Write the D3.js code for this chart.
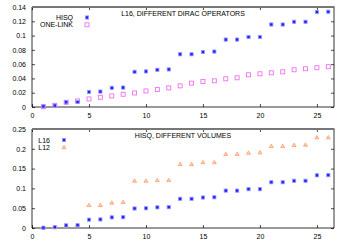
<!DOCTYPE html>
<html>
<head>
<meta charset="utf-8">
<script src="https://cdn.jsdelivr.net/npm/d3@7"></script>
<style>
  body { margin: 0; background: #fff; }
  text { font-family: "Liberation Sans", Arial, sans-serif; }
</style>
</head>
<body>
<div id="chart"></div>
<script>
// Chart size
const width = 346;
const height = 242;

// Data: config index 1..26
const configs = d3.range(1, 27);
const hisq = [0.0008, 0.002, 0.0066, 0.007, 0.0211, 0.0216, 0.0268, 0.0272, 0.0493, 0.0498,
  0.0521, 0.0526, 0.0738, 0.0738, 0.077, 0.0776, 0.0944, 0.0944, 0.098, 0.098,
  0.1155, 0.1155, 0.1193, 0.1193, 0.133, 0.1334];
const oneLink = [0.0004, 0.0023, 0.0066, 0.0085, 0.0113, 0.0136, 0.0155, 0.0178, 0.0197, 0.0225,
  0.0244, 0.0268, 0.0296, 0.0334, 0.0357, 0.0367, 0.0395, 0.0409, 0.0451, 0.0465,
  0.0479, 0.0493, 0.0521, 0.0536, 0.055, 0.0564];
const l12 = [0.0008, 0.002, 0.006, 0.007, 0.058, 0.058, 0.064, 0.0657, 0.1195, 0.1195,
  0.121, 0.121, 0.1616, 0.1616, 0.166, 0.166, 0.187, 0.187, 0.190, 0.191,
  0.207, 0.207, 0.2096, 0.2104, 0.229, 0.229];

const xTicks = [0, 5, 10, 15, 20, 25];
const topYTicks = [0, 0.02, 0.04, 0.06, 0.08, 0.1, 0.12, 0.14];
const botYTicks = [0, 0.05, 0.1, 0.15, 0.2, 0.25];

const svg = d3.select("#chart").append("svg")
  .attr("width", width)
  .attr("height", height);

const left = 32, right = 334;

const x = d3.scaleLinear().domain([0, 26.5]).range([left, right]);

// Marker helpers
function filledSquare(g, data, y) {
  g.selectAll(null).data(data).enter().append("rect")
    .attr("x", d => x(d[0]) - 1.6)
    .attr("y", d => y(d[1]) - 1.6)
    .attr("width", 3.2)
    .attr("height", 3.2)
    .attr("fill", "#1f1fff")
    .attr("stroke", "#9a9aff")
    .attr("stroke-width", 0.8);
}
function openSquare(g, data, y) {
  g.selectAll(null).data(data).enter().append("rect")
    .attr("x", d => x(d[0]) - 2)
    .attr("y", d => y(d[1]) - 2)
    .attr("width", 4)
    .attr("height", 4)
    .attr("fill", "none")
    .attr("stroke", "#f070f0")
    .attr("stroke-width", 0.9);
}
function openTriangle(g, data, y) {
  g.selectAll(null).data(data).enter().append("path")
    .attr("transform", d => "translate(" + x(d[0]) + "," + y(d[1]) + ")")
    .attr("d", "M0,-1.8L2,1.5L-2,1.5Z")
    .attr("fill", "#ffd6c2")
    .attr("stroke", "#ff9a6a")
    .attr("stroke-width", 0.8);
}

function drawPanel(opts) {
  const y = d3.scaleLinear().domain(opts.yDomain).range([opts.bottom, opts.top]);
  const g = svg.append("g");

  // Axes with inward ticks
  g.append("g")
    .attr("transform", "translate(0," + opts.bottom + ")")
    .call(d3.axisBottom(x).tickValues(xTicks).tickSize(-3).tickPadding(6).tickFormat(d3.format("d")));
  g.append("g")
    .attr("transform", "translate(0," + opts.top + ")")
    .call(d3.axisTop(x).tickValues(xTicks).tickSize(-3).tickFormat(""));
  g.append("g")
    .attr("transform", "translate(" + left + ",0)")
    .call(d3.axisLeft(y).tickValues(opts.yTicks).tickSize(-3).tickPadding(6).tickFormat(d => d === 0 ? "0" : String(+d.toFixed(2))));
  g.append("g")
    .attr("transform", "translate(" + right + ",0)")
    .call(d3.axisRight(y).tickValues(opts.yTicks).tickSize(-3).tickFormat(""));

  g.selectAll(".domain").remove();
  g.selectAll(".tick line").attr("stroke", "#000").attr("stroke-width", 0.7);
  g.selectAll(".tick text").attr("font-size", 7).attr("fill", "#000")
    .style("font-family", "'Liberation Sans', Arial, sans-serif");

  // Frame: thin black left/right/bottom, thick grey top
  g.append("path")
    .attr("d", "M" + left + "," + opts.top + "V" + opts.bottom + "H" + right + "V" + opts.top)
    .attr("fill", "none")
    .attr("stroke", "#000")
    .attr("stroke-width", 0.8);
  g.append("line")
    .attr("x1", left).attr("x2", right + 0.5)
    .attr("y1", opts.top).attr("y2", opts.top)
    .attr("stroke", "#777")
    .attr("stroke-width", 2);

  // Title
  g.append("text")
    .attr("x", (left + right) / 2)
    .attr("y", opts.top + 9)
    .attr("text-anchor", "middle")
    .attr("font-size", 7)
    .text(opts.title);

  // Legend
  opts.legend.forEach((item, i) => {
    const ly = opts.top + opts.legendY + i * 7.3;
    g.append("text")
      .attr("x", opts.legendX)
      .attr("y", ly + 2.5)
      .attr("text-anchor", "end")
      .attr("font-size", 7)
      .text(item.label);
    item.marker(g, [[x.invert(opts.legendX + 14), y.invert(ly)]], y);
  });

  opts.series.forEach(s => s.marker(g, configs.map((c, i) => [c, s.values[i]]), y));
}

drawPanel({
  top: 7, bottom: 107,
  yDomain: [0, 0.14],
  yTicks: topYTicks,
  title: "L16, DIFFERENT DIRAC OPERATORS",
  legendX: 73, legendY: 10.5,
  legend: [
    { label: "HISQ", marker: filledSquare },
    { label: "ONE-LINK", marker: openSquare }
  ],
  series: [
    { values: oneLink, marker: openSquare },
    { values: hisq, marker: filledSquare }
  ]
});

drawPanel({
  top: 129, bottom: 228,
  yDomain: [0, 0.25],
  yTicks: botYTicks,
  title: "HISQ, DIFFERENT VOLUMES",
  legendX: 50, legendY: 11,
  legend: [
    { label: "L16", marker: filledSquare },
    { label: "L12", marker: openTriangle }
  ],
  series: [
    { values: l12, marker: openTriangle },
    { values: hisq, marker: filledSquare }
  ]
});
</script>
</body>
</html>
